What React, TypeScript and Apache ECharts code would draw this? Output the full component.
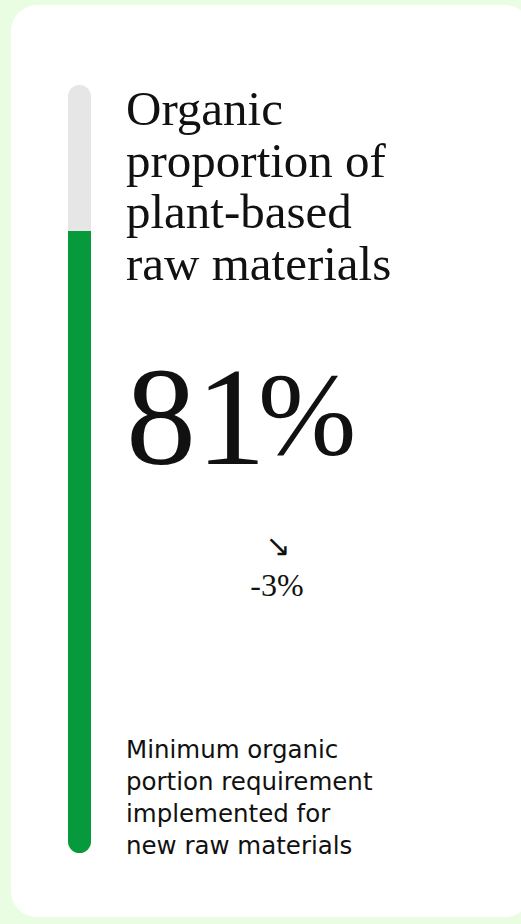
import React, { useEffect, useRef } from "react";
import * as echarts from "echarts";

const categories = ["Organic share"];
const organicShare = [81];
const maxShare = 100;
const titleLines = ["Organic", "proportion of", "plant-based", "raw materials"];
const valueLabel = "81";
const unitLabel = "%";
const changeArrow = "↘";
const changeLabel = "-3%";
const noteLines = ["Minimum organic", "portion requirement", "implemented for", "new raw materials"];

const GREEN = "#079a3c";
const TRACK = "#e6e6e6";

export default function App() {
  const ref = useRef<HTMLDivElement>(null);
  useEffect(() => {
    if (!ref.current) return;
    const chart = echarts.init(ref.current, null, { renderer: "svg" });
    const serif = "'Liberation Serif', 'Times New Roman', serif";
    const sans = "'DejaVu Sans', sans-serif";
    chart.setOption({
      animation: false,
      backgroundColor: "#e8fde1",
      grid: { left: 68, top: 85, width: 23, height: 768 },
      xAxis: { type: "category", data: categories, show: false },
      yAxis: { type: "value", min: 0, max: maxShare, show: false },
      series: [
        {
          type: "bar",
          data: organicShare,
          barWidth: 23,
          showBackground: true,
          backgroundStyle: { color: TRACK, borderRadius: 11.5 },
          itemStyle: { color: GREEN, borderRadius: [0, 0, 11.5, 11.5] },
          silent: true,
        },
      ],
      graphic: [
        {
          type: "rect",
          z: -10,
          shape: { x: 11, y: 5, width: 520, height: 912, r: 26 },
          style: { fill: "#ffffff" },
        },
        {
          type: "text",
          x: 126,
          y: 83,
          style: {
            text: titleLines.join("\n"),
            font: `400 49px ${serif}`,
            lineHeight: 51.5,
            fill: "#111111",
          },
        },
        {
          type: "text",
          x: 126,
          y: 346,
          style: { text: valueLabel, font: `400 140px ${serif}`, fill: "#111111" },
        },
        {
          type: "text",
          x: 258,
          y: 355,
          style: { text: unitLabel, font: `400 118px ${serif}`, fill: "#111111" },
        },
        {
          type: "text",
          x: 278,
          y: 545,
          style: {
            text: changeArrow,
            font: `400 30px 'DejaVu Sans', sans-serif`,
            fill: "#111111",
            align: "center",
            verticalAlign: "middle",
          },
        },
        {
          type: "text",
          x: 277,
          y: 585,
          style: {
            text: changeLabel,
            font: `400 32px ${serif}`,
            fill: "#111111",
            align: "center",
            verticalAlign: "middle",
          },
        },
        {
          type: "text",
          x: 126,
          y: 733,
          style: {
            text: noteLines.join("\n"),
            font: `400 24.5px ${sans}`,
            lineHeight: 32,
            fill: "#111111",
          },
        },
      ],
    });
    return () => chart.dispose();
  }, []);
  return (
    <div
      ref={ref}
      style={{ position: "fixed", left: 0, top: 0, width: 521, height: 924 }}
    />
  );
}
